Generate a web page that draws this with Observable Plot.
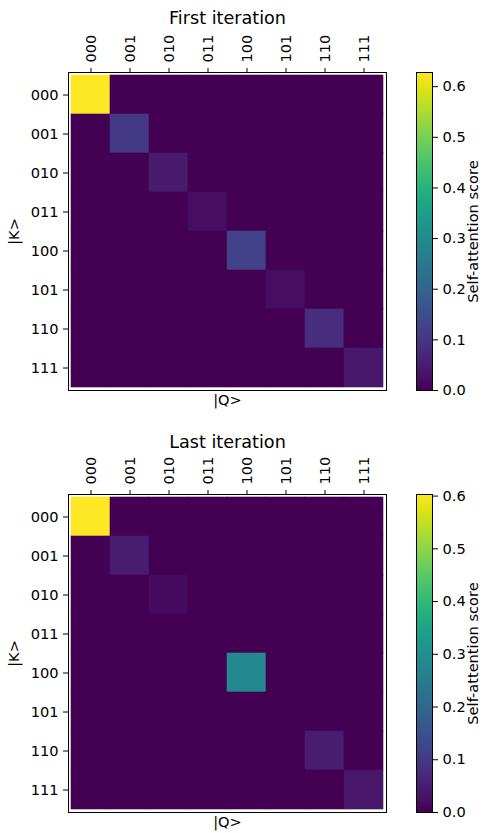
<!DOCTYPE html>
<html>
<head>
<meta charset="utf-8">
<script src="https://cdn.jsdelivr.net/npm/d3@7"></script>
<script src="https://cdn.jsdelivr.net/npm/@observablehq/plot@0.6"></script>
<style>
  html, body { margin: 0; padding: 0; background: white; }
  #root { position: relative; width: 486px; height: 833px; overflow: hidden; font-family: "DejaVu Sans", sans-serif; }
  .panel { position: absolute; }
</style>
</head>
<body>
<div id="root"></div>
<script>
// ---- data ----
const labels = ["000", "001", "010", "011", "100", "101", "110", "111"];
const firstDiag = [0.628, 0.107, 0.045, 0.02, 0.125, 0.02, 0.08, 0.04];
const lastDiag  = [0.603, 0.048, 0.018, 0.0, 0.283, 0.0, 0.048, 0.036];
const firstMax = 0.628;
const lastMax = 0.603;
const cbTicks = [0, 0.1, 0.2, 0.3, 0.4, 0.5, 0.6];
const titles = ["First iteration", "Last iteration"];
const xLabel = "|Q>";
const yLabel = "|K>";
const cbLabel = "Self-attention score";

function cellsFrom(diag) {
  const out = [];
  labels.forEach((k, i) => labels.forEach((q, j) => out.push({k, q, v: i === j ? diag[i] : 0})));
  return out;
}

const TICK_FS = 14.6, TITLE_FS = 17.6;
const baseStyle = {fontFamily: "DejaVu Sans, sans-serif", fontSize: TICK_FS + "px", color: "black", background: "transparent", overflow: "visible"};

function heatmap(diag, vmax, title, mb, titleDy) {
  const cells = cellsFrom(diag);
  return Plot.plot({
    width: 400, height: 72 + 318 + mb,
    marginTop: 72, marginLeft: 68, marginRight: 14, marginBottom: mb,
    style: baseStyle,
    x: {type: "band", domain: labels, padding: 0, axis: null},
    y: {type: "band", domain: labels, padding: 0, axis: null},
    color: {type: "linear", scheme: "viridis", domain: [0, vmax]},
    marks: [
      Plot.cell(cells, {x: "q", y: "k", fill: "v", stroke: "v", strokeWidth: 0.6, inset: 0}),
      Plot.frame({stroke: "black", strokeWidth: 1}),
      Plot.axisX({anchor: "top", tickRotate: -90, tickSize: 5, tickPadding: 5, label: null, fontSize: TICK_FS}),
      Plot.axisY({anchor: "left", tickSize: 5, tickPadding: 5, label: null, fontSize: TICK_FS}),
      Plot.text([title], {frameAnchor: "top", dy: titleDy, fontSize: TITLE_FS, text: d => d, fill: "black", textAnchor: "middle"}),
      Plot.text([xLabel], {frameAnchor: "bottom", dy: 14, fontSize: TICK_FS, text: d => d, fill: "black", textAnchor: "middle"}),
      Plot.text([yLabel], {frameAnchor: "left", dx: -54, rotate: -90, fontSize: TICK_FS, text: d => d, fill: "black", textAnchor: "middle"})
    ]
  });
}

function colorbar(vmax, mb) {
  const n = 318;
  const ramp = d3.range(n).map(i => [i * vmax / n, (i + 1) * vmax / n]);
  return Plot.plot({
    width: 106, height: 72 + 318 + mb,
    marginTop: 72, marginBottom: mb, marginLeft: 36, marginRight: 54,
    style: baseStyle,
    x: {axis: null},
    y: {type: "linear", domain: [0, vmax], axis: null},
    color: {type: "linear", scheme: "viridis", domain: [0, vmax]},
    marks: [
      Plot.rect(ramp, {y1: d => d[0], y2: d => d[1], fill: d => (d[0] + d[1]) / 2, shapeRendering: "crispEdges"}),
      Plot.frame({stroke: "black", strokeWidth: 1}),
      Plot.axisY({anchor: "right", ticks: cbTicks, tickFormat: d3.format(".1f"), tickSize: 5, tickPadding: 5, label: null, fontSize: TICK_FS}),
      Plot.text([cbLabel], {frameAnchor: "right", dx: 40.5, rotate: -90, fontSize: TICK_FS, text: d => d, fill: "black", textAnchor: "middle"})
    ]
  });
}

const root = document.getElementById("root");
function place(el, left, top) {
  const wrap = document.createElement("div");
  wrap.className = "panel";
  wrap.style.left = left + "px";
  wrap.style.top = top + "px";
  wrap.appendChild(el);
  root.appendChild(wrap);
}

place(heatmap(firstDiag, firstMax, titles[0], 30, -61), 0, 0);
place(colorbar(firstMax, 30), 380, 0);
place(heatmap(lastDiag, lastMax, titles[1], 21, -59), 0, 422);
place(colorbar(lastMax, 21), 380, 422);
</script>
</body>
</html>
